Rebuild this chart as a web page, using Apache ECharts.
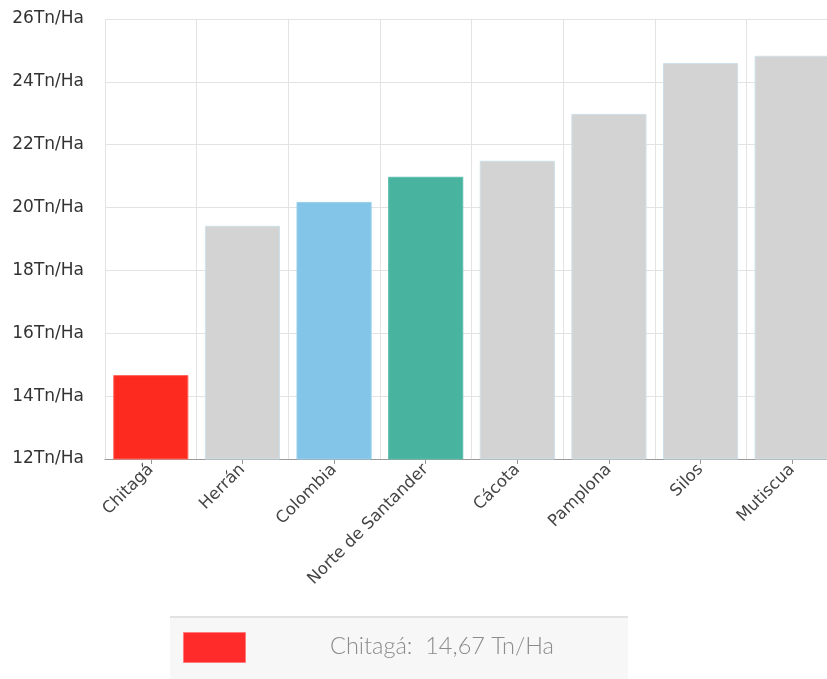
<!DOCTYPE html>
<html>
<head>
<meta charset="utf-8">
<script src="https://cdn.jsdelivr.net/npm/echarts@6/dist/echarts.min.js"></script>
<style>
html,body{margin:0;padding:0;overflow:hidden;background:#fff;width:827px;height:679px;}
#chart{width:839px;height:679px;}
</style>
</head>
<body>
<div id="chart"></div>
<script>
const categories = ['Chitagá','Herrán','Colombia','Norte de Santander','Cácota','Pamplona','Silos','Mutiscua'];
const values = [14.67, 19.42, 20.18, 20.98, 21.49, 22.98, 24.6, 24.83];
const yTicks = [12, 14, 16, 18, 20, 22, 24, 26];
const unit = 'Tn/Ha';
const highlightIndex = 0;

const barColors = ['#fd2a1f','#d3d3d3','#82c5e8','#48b4a0','#d3d3d3','#d3d3d3','#d3d3d3','#d3d3d3'];
const barBorders = ['#ff6a60','#cfe0ea','#9ad0ec','#5dbdab','#cfe0ea','#cfe0ea','#cfe0ea','#cfe0ea'];

const chart = echarts.init(document.getElementById('chart'), null, {renderer:'canvas'});
const legendText = categories[highlightIndex] + ':  ' + values[highlightIndex].toFixed(2).replace('.', ',') + ' ' + unit;

chart.setOption({
  animation: false,
  grid: { left: 105, top: 19, bottom: 220, right: 1, containLabel: false },
  xAxis: {
    type: 'category',
    data: categories,
    boundaryGap: true,
    axisLine: { show: true, lineStyle: { color: '#9a9a9a', width: 1 } },
    axisTick: { show: true, alignWithLabel: true, length: 5, lineStyle: { color: '#9a9a9a' } },
    axisLabel: { rotate: 45, margin: 8, color: '#444', fontFamily: 'DejaVu Sans', fontSize: 16.5, interval: 0 },
    splitLine: { show: true, lineStyle: { color: '#e3e3e3', width: 1 } }
  },
  yAxis: {
    type: 'value',
    min: yTicks[0],
    max: yTicks[yTicks.length - 1],
    interval: yTicks[1] - yTicks[0],
    axisLine: { show: false },
    axisTick: { show: false },
    axisLabel: { formatter: '{value}' + unit, color: '#333', fontFamily: 'DejaVu Sans', fontSize: 17, margin: 21 },
    splitLine: { show: true, lineStyle: { color: '#e3e3e3', width: 1 } }
  },
  series: [{
    type: 'bar',
    barCategoryGap: '18%',
    data: values.map((v, i) => ({
      value: v,
      itemStyle: { color: barColors[i], borderColor: barBorders[i], borderWidth: 1 }
    }))
  }],
  graphic: [
    { type: 'rect', left: 170, top: 617, shape: { width: 458, height: 62 }, style: { fill: '#f7f7f7' }, z: 10 },
    { type: 'rect', left: 170, top: 616, shape: { width: 458, height: 2 }, style: { fill: '#e2e2e2' }, z: 11 },
    { type: 'rect', left: 183, top: 632, shape: { width: 62, height: 30 }, style: { fill: '#ff2a2a', stroke: '#ff7a7a', lineWidth: 1 }, z: 11 },
    { type: 'text', left: 330, top: 634, style: { text: legendText, fill: '#8c8c8c', font: '300 23.5px Lato' }, z: 11 }
  ]
});
</script>
</body>
</html>
